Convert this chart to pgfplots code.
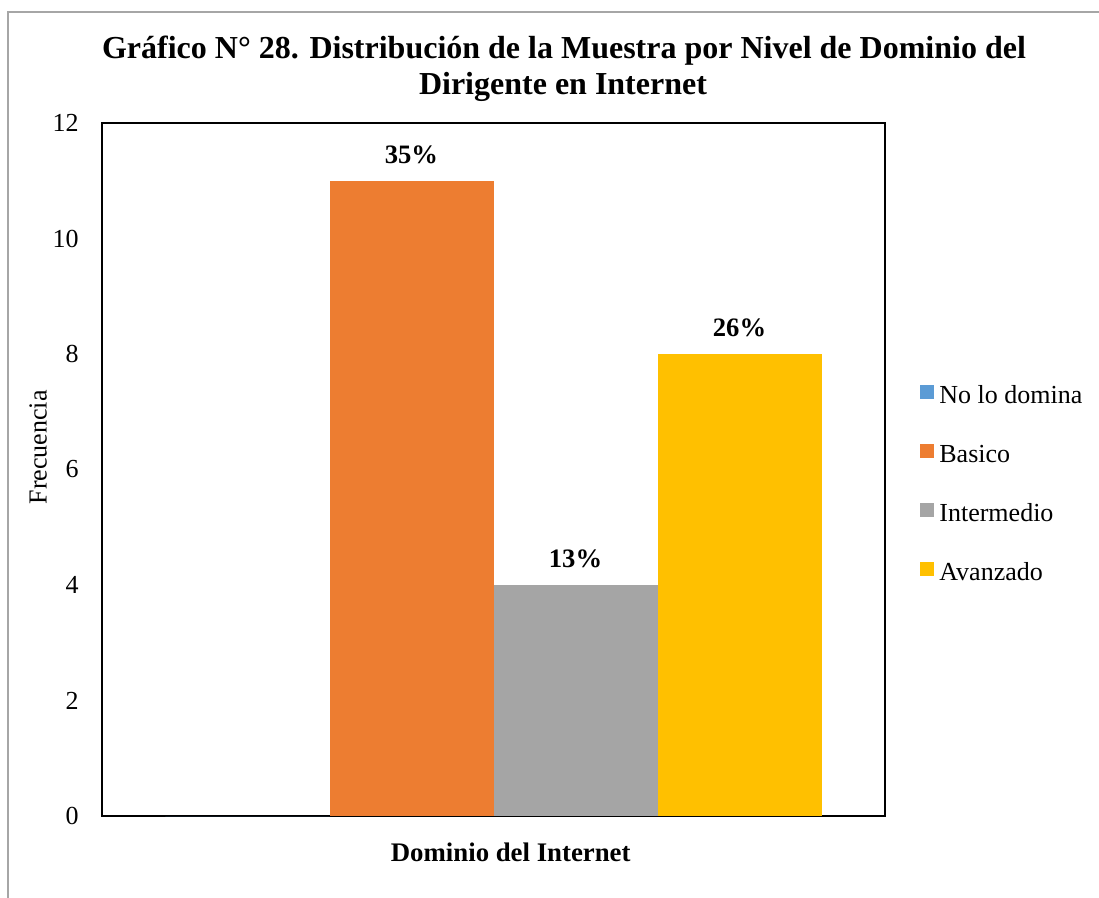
\documentclass[border=0pt]{standalone}
\usepackage{fontspec}
\setmainfont{Liberation Serif}
\usepackage{pgfplots}
\pgfplotsset{compat=1.18}
\definecolor{cblue}{HTML}{5B9BD5}
\definecolor{corange}{HTML}{ED7D31}
\definecolor{cgray}{HTML}{A5A5A5}
\definecolor{cyellow}{HTML}{FFC000}
\definecolor{framegray}{HTML}{A6A6A6}
\begin{document}
\begin{tikzpicture}
\path[use as bounding box] (0,0) rectangle (549.5pt,-449pt);
\draw[color=framegray, line width=0.75pt] (4pt,-449pt) -- (4pt,-6pt) -- (549.5pt,-6pt);
\node[anchor=base, inner sep=0pt, font=\bfseries\fontsize{16}{19}\selectfont] at (282pt,-29.5pt) {Gráfico N° 28. Distribución de la Muestra por Nivel de Dominio del};
\node[anchor=base, inner sep=0pt, font=\bfseries\fontsize{16}{19}\selectfont] at (281.5pt,-47.5pt) {Dirigente en Internet};
\begin{axis}[
  at={(51pt,-408pt)}, anchor=south west,
  scale only axis, width=391.5pt, height=346.5pt,
  ybar=0pt, bar width=82pt,
  xmin=-1, xmax=1, ymin=0, ymax=12,
  enlargelimits=false,
  ytick={0,2,...,12}, xtick=\empty,
  major tick length=0pt,
  axis line style={black, line width=0.7pt},
  /pgf/number format/assume math mode=true,
  yticklabel style={font=\fontsize{13}{15}\selectfont, anchor=east, inner sep=0pt, xshift=-11.5pt},
  xlabel={\textbf{Dominio del Internet}},
  xlabel style={at={(axis description cs:0.522,-0.053)}, anchor=center, font=\fontsize{13.4}{15}\selectfont},
  ylabel={Frecuencia},
  ylabel style={at={(axis description cs:-0.0817,0.532)}, anchor=center, font=\fontsize{13}{15}\selectfont},
  point meta=explicit symbolic,
  every node near coord/.append style={font=\bfseries\fontsize{13.3}{15}\selectfont, anchor=base, inner sep=0pt, yshift=8.5pt},
  legend image code/.code={\fill[#1] (0pt,-1pt) rectangle (7pt,6pt);},
  legend style={at={(axis description cs:1.0447,0.622)}, anchor=north west, draw=none, fill=none,
    inner sep=0pt, column sep=2.5pt, row sep=17.5pt,
    font=\fontsize{13}{15}\selectfont,
    nodes={inner sep=0pt, text height=9pt, text depth=3pt}},
  legend cell align=left,
]
\addplot[fill=cblue, draw=none] coordinates {(0,0)};
\addplot[fill=corange, draw=none, nodes near coords] coordinates {(0,11) [35\%]};
\addplot[fill=cgray, draw=none, nodes near coords] coordinates {(0,4) [13\%]};
\addplot[fill=cyellow, draw=none, nodes near coords] coordinates {(0,8) [26\%]};
\legend{No lo domina, Basico, Intermedio, Avanzado}
\end{axis}
\end{tikzpicture}
\end{document}
